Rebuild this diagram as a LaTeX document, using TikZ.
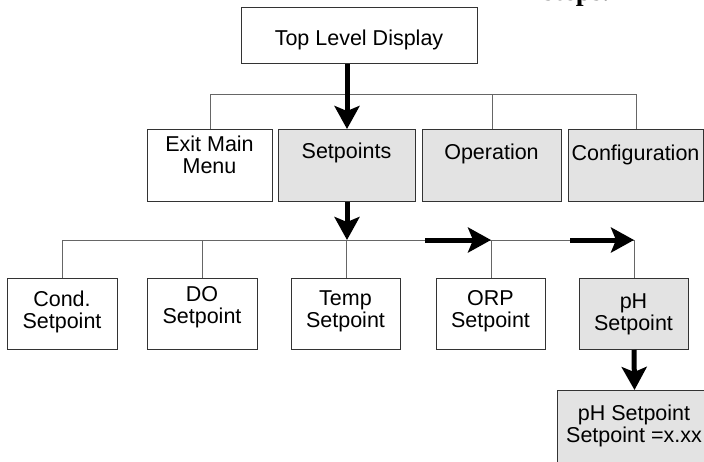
\documentclass[tikz,border=0pt]{standalone}
\usepackage{fontspec}
\setmainfont{Liberation Sans}
\newfontfamily\serifb{Liberation Serif}
\usetikzlibrary{arrows.meta}
\definecolor{boxfill}{HTML}{E3E3E3}
\definecolor{boxline}{HTML}{333333}
\definecolor{conline}{HTML}{666666}
\begin{document}
\begin{tikzpicture}[x=1pt,y=-1pt,
  box/.style={draw=boxline, line width=1pt, inner sep=0pt, anchor=north west},
  greybox/.style={box, fill=boxfill},
  txt/.style={font=\fontsize{21.5}{22}\selectfont, align=center, anchor=base, inner sep=0pt},
  conn/.style={draw=conline, line width=1pt},
  bigarrow/.style={line width=5pt, -{Stealth[length=23pt,width=25pt,inset=5pt]}}]
\useasboundingbox (0,0) rectangle (704,461);
% header text cut at top
\node[font=\serifb\bfseries\fontsize{28}{30}\selectfont, anchor=base west, inner sep=0pt] (steps) at (543,0) {steps.};
% boxes
\node[box, minimum width=236pt, minimum height=56pt] (top) at (241,7) {};
\node[box, minimum width=125pt, minimum height=72pt] (exit) at (147,129) {};
\node[greybox, minimum width=137pt, minimum height=72pt] (setp) at (278,129) {};
\node[greybox, minimum width=139pt, minimum height=72pt] (oper) at (422,129) {};
\node[greybox, minimum width=135pt, minimum height=72pt] (conf) at (568,129) {};
\node[box, minimum width=110pt, minimum height=71pt] (cond) at (7,278) {};
\node[box, minimum width=110pt, minimum height=71pt] (do) at (147,278) {};
\node[box, minimum width=109pt, minimum height=71pt] (temp) at (291,278) {};
\node[box, minimum width=109pt, minimum height=71pt] (orp) at (436,278) {};
\node[greybox, minimum width=109pt, minimum height=71pt] (ph) at (579,278) {};
\node[greybox, minimum width=154pt, minimum height=72pt] (final) at (557,390) {};
% texts (multi-line: anchor base = last line)
\node[txt] (ttop) at (359,45) {Top Level Display};
\node[txt] (texit) at (209.5,173) {Exit Main\\Menu};
\node[txt] (tsetp) at (346.5,158) {Setpoints};
\node[txt] (toper) at (491.5,159) {Operation};
\node[txt] (tconf) at (635.5,160) {Configuration};
\node[txt] (tcond) at (62,328) {Cond.\\Setpoint};
\node[txt] (tdo) at (202,323) {DO\\Setpoint};
\node[txt] (ttemp) at (345.5,327) {Temp\\Setpoint};
\node[txt] (torp) at (490.5,327) {ORP\\Setpoint};
\node[txt] (tph) at (633.5,330) {pH\\Setpoint};
\node[txt] (tfinal) at (634,442) {pH Setpoint\\Setpoint =x.xx};
% first bus
\coordinate (busA) at (0,94);
\draw[conn] (exit.north) -- (exit.north |- busA) -- (conf.north |- busA) -- (conf.north);
\draw[conn] (oper.north) -- (oper.north |- busA);
\draw[bigarrow] (setp.north |- top.south) -- (setp.north);
% second bus
\coordinate (busB) at (0,240);
\draw[conn] (cond.north) -- (cond.north |- busB) -- (ph.north |- busB) -- (ph.north);
\draw[conn] (do.north) -- (do.north |- busB);
\draw[conn] (temp.north) -- (temp.north |- busB);
\draw[conn] (orp.north) -- (orp.north |- busB);
\draw[bigarrow] (setp.south) -- (setp.south |- busB);
\coordinate (s1) at (425,240);
\coordinate (s2) at (570,240);
\draw[bigarrow] (s1) -- (orp.north |- busB);
\draw[bigarrow] (s2) -- (ph.north |- busB);
\draw[bigarrow] (ph.south) -- (final.north);
\end{tikzpicture}
\end{document}
